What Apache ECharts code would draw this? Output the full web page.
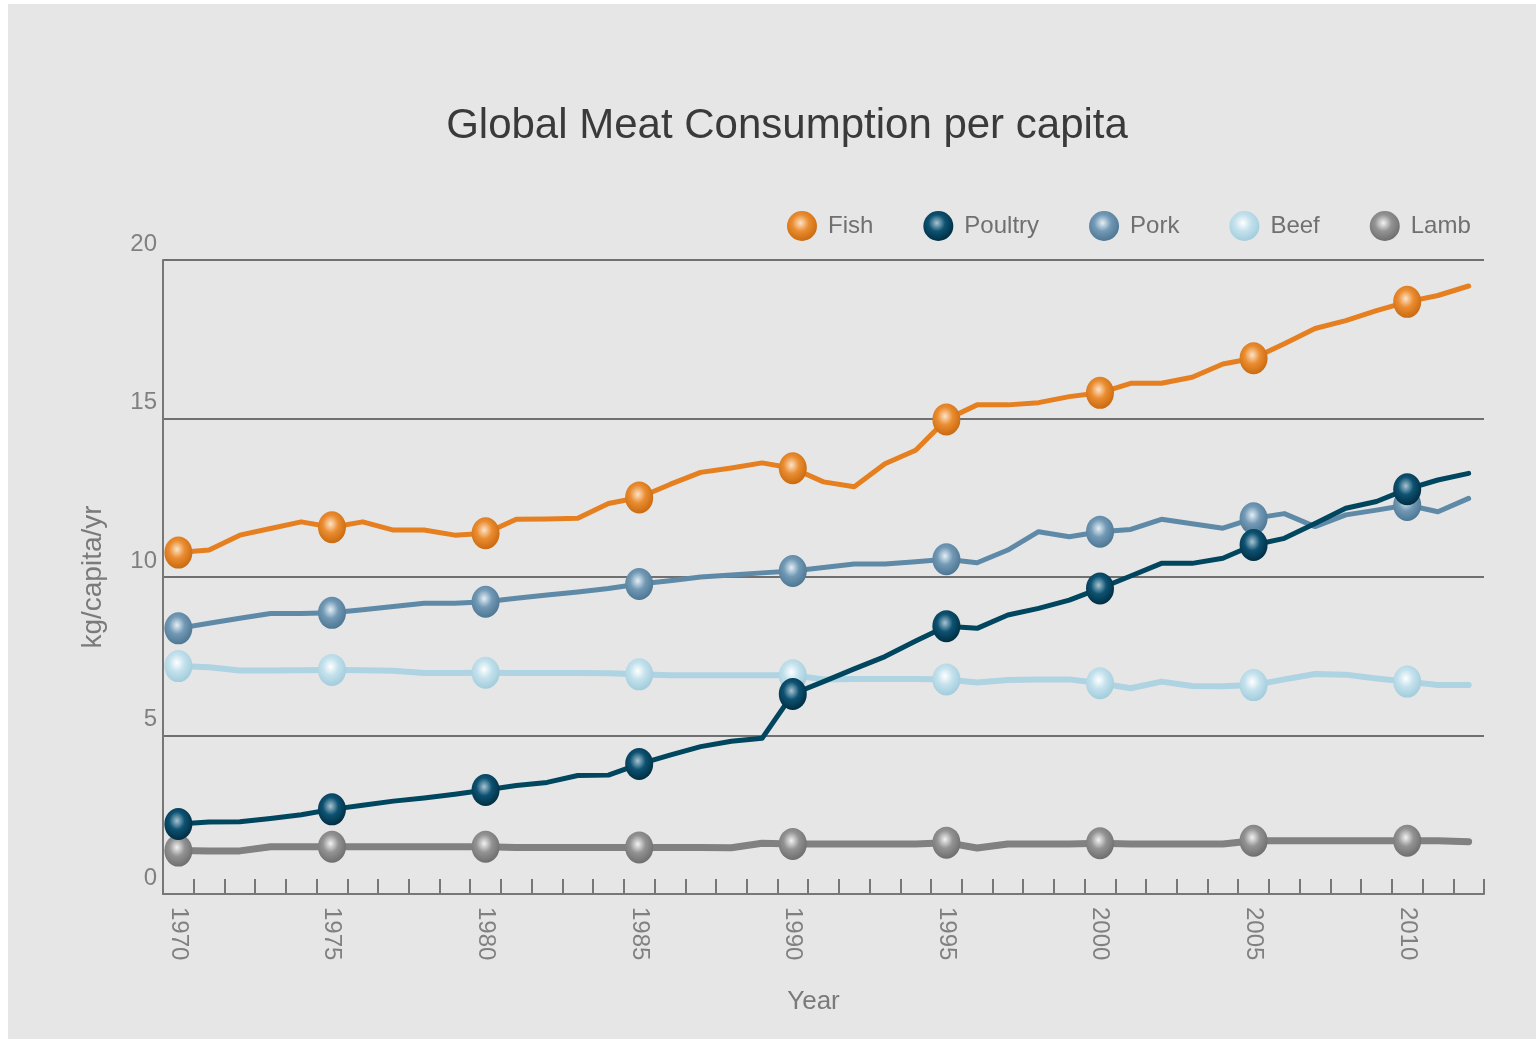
<!DOCTYPE html>
<html>
<head>
<meta charset="utf-8">
<script src="https://cdn.jsdelivr.net/npm/echarts@6/dist/echarts.min.js"></script>
<style>
  html, body { margin: 0; padding: 0; background: #ffffff; }
  #chart { position: absolute; left: 8px; top: 4px; width: 1528px; height: 1035px; }
</style>
</head>
<body>
<div id="chart"></div>
<script>
// Years on the category axis
const years = ['1970','1971','1972','1973','1974','1975','1976','1977','1978','1979',
               '1980','1981','1982','1983','1984','1985','1986','1987','1988','1989',
               '1990','1991','1992','1993','1994','1995','1996','1997','1998','1999',
               '2000','2001','2002','2003','2004','2005','2006','2007','2008','2009',
               '2010','2011','2012'];

// Consumption in kg per capita per year
const fish    = [10.77,10.85,11.32,11.53,11.74,11.57,11.74,11.48,11.48,11.32,
                 11.38,11.82,11.83,11.85,12.32,12.51,12.92,13.30,13.44,13.60,
                 13.43,13.00,12.85,13.57,14.00,14.97,15.43,15.43,15.50,15.69,
                 15.81,16.11,16.11,16.30,16.72,16.90,17.36,17.84,18.09,18.40,
                 18.68,18.88,19.18];
const poultry = [2.21,2.27,2.28,2.38,2.50,2.67,2.80,2.93,3.03,3.15,
                 3.28,3.42,3.52,3.74,3.75,4.10,4.38,4.65,4.82,4.91,
                 6.31,6.70,7.10,7.49,7.98,8.45,8.38,8.80,9.01,9.27,
                 9.64,10.03,10.43,10.43,10.59,11.01,11.22,11.69,12.17,12.38,
                 12.77,13.06,13.27];
const pork    = [8.38,8.54,8.70,8.85,8.85,8.87,8.97,9.07,9.17,9.17,
                 9.22,9.33,9.43,9.53,9.64,9.78,9.88,10.00,10.06,10.13,
                 10.19,10.30,10.41,10.41,10.48,10.56,10.45,10.85,11.43,11.27,
                 11.43,11.50,11.82,11.68,11.54,11.85,12.00,11.59,11.96,12.11,
                 12.27,12.06,12.48];
const beef    = [7.19,7.15,7.05,7.05,7.06,7.07,7.06,7.04,6.97,6.97,
                 6.98,6.97,6.97,6.97,6.96,6.93,6.90,6.90,6.90,6.90,
                 6.90,6.77,6.78,6.78,6.78,6.77,6.67,6.75,6.77,6.77,
                 6.65,6.49,6.70,6.56,6.55,6.59,6.77,6.94,6.92,6.80,
                 6.70,6.59,6.59];
const lamb    = [1.37,1.36,1.36,1.49,1.49,1.49,1.49,1.49,1.49,1.49,
                 1.49,1.47,1.47,1.47,1.47,1.47,1.47,1.47,1.46,1.60,
                 1.58,1.58,1.58,1.58,1.58,1.62,1.45,1.58,1.58,1.58,
                 1.60,1.58,1.58,1.58,1.58,1.68,1.68,1.68,1.68,1.68,
                 1.68,1.68,1.65];

const legendOrder = ['Fish', 'Poultry', 'Pork', 'Beef', 'Lamb'];

const FONT = '"Liberation Sans", Arial, sans-serif';

// Glossy sphere fill for the point markers
function sphere(light, base, dark) {
  return new echarts.graphic.RadialGradient(0.45, 0.4, 0.62, [
    { offset: 0, color: light },
    { offset: 0.45, color: base },
    { offset: 1, color: dark }
  ]);
}

// Markers are drawn on every fifth year only
function markerSize(value, params) {
  return params.dataIndex % 5 === 0 ? [28, 32] : 0;
}

function makeSeries(name, data, lineColor, lineWidth, fill) {
  return {
    name: name,
    type: 'line',
    data: data,
    symbol: 'circle',
    showAllSymbol: true,
    symbolSize: markerSize,
    lineStyle: { color: lineColor, width: lineWidth, cap: 'round', join: 'round' },
    itemStyle: { color: fill, borderWidth: 0 },
    emphasis: { disabled: true },
    animation: false
  };
}

const chart = echarts.init(document.getElementById('chart'));
chart.setOption({
  backgroundColor: '#e6e6e6',
  textStyle: { fontFamily: FONT },
  title: {
    text: 'Global Meat Consumption per capita',
    left: 774,
    top: 96,
    textAlign: 'center',
    textStyle: { fontFamily: FONT, fontSize: 42, fontWeight: 'normal', color: '#3a3a3a' }
  },
  legend: {
    data: legendOrder,
    left: 774,
    top: 202,
    icon: 'circle',
    itemWidth: 30,
    itemHeight: 31,
    itemGap: 50,
    textStyle: { fontFamily: FONT, fontSize: 24, color: '#707070', padding: [0, 0, 0, 6] }
  },
  grid: { left: 155, right: 52, top: 256, bottom: 145, containLabel: false },
  xAxis: {
    type: 'category',
    data: years,
    boundaryGap: true,
    name: 'Year',
    nameLocation: 'middle',
    nameGap: 95,
    nameTextStyle: { fontFamily: FONT, fontSize: 26, color: '#7a7a7a', padding: [0, 20, 0, 0] },
    axisLine: { show: true, lineStyle: { color: '#777777', width: 2 } },
    axisTick: { show: true, interval: 0, inside: true, length: 15, lineStyle: { color: '#777777', width: 2 } },
    axisLabel: { interval: 4, rotate: -90, margin: 13, fontFamily: FONT, fontSize: 24, color: '#808080' },
    splitLine: { show: false }
  },
  yAxis: {
    type: 'value',
    min: 0,
    max: 20,
    interval: 5,
    name: 'kg/capita/yr',
    nameLocation: 'middle',
    nameGap: 56,
    nameRotate: 90,
    nameTextStyle: { fontFamily: FONT, fontSize: 28, color: '#7a7a7a' },
    axisLine: { show: true, lineStyle: { color: '#777777', width: 2 } },
    axisTick: { show: false },
    axisLabel: { margin: 6, fontFamily: FONT, fontSize: 24, color: '#808080', verticalAlign: 'bottom', lineHeight: 32 },
    splitLine: { show: true, lineStyle: { color: '#707070', width: 2 } }
  },
  series: [
    makeSeries('Lamb', lamb, '#818181', 7, sphere('#f2f2f2', '#939393', '#6c6c6c')),
    makeSeries('Beef', beef, '#aed3e2', 6, sphere('#ffffff', '#c3e1ec', '#a0cbdb')),
    makeSeries('Pork', pork, '#5e8aa8', 5, sphere('#e4eef5', '#7299b5', '#4b7592')),
    makeSeries('Poultry', poultry, '#00465f', 5, sphere('#a9c4d2', '#0d5272', '#002c40')),
    makeSeries('Fish', fish, '#e57f1f', 5, sphere('#fde3c8', '#ea8c30', '#c8680f'))
  ]
});
</script>
</body>
</html>
